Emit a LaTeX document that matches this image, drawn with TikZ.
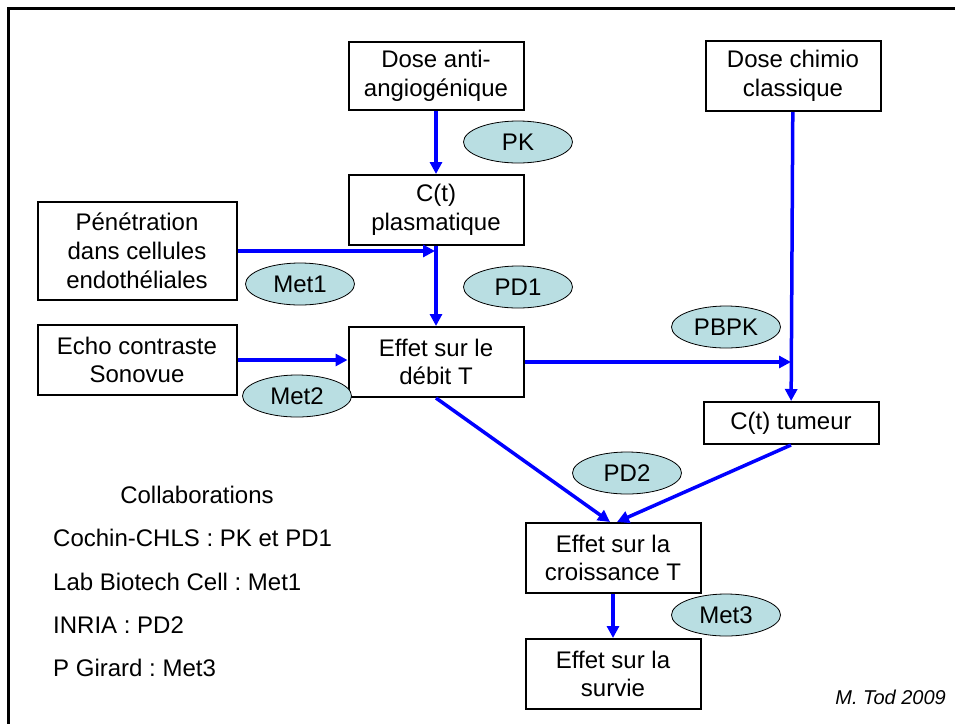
\documentclass[tikz,border=0pt]{standalone}
\usepackage{fontspec}
\setmainfont{Liberation Sans}
\usepackage{tikz}
\usetikzlibrary{arrows.meta,positioning,shapes.geometric}
\frenchspacing
\definecolor{Flow}{RGB}{0,0,255}
\definecolor{Model}{RGB}{185,222,226}
\tikzset{
  stage/.style={rectangle,draw=black,line width=2pt,minimum width=175pt,minimum height=70pt,inner sep=0pt,align=center,font=\fontsize{24}{28.8}\selectfont},
  model/.style={ellipse,draw=black,line width=0.8pt,fill=Model,minimum width=109pt,minimum height=42pt,inner sep=0pt,font=\fontsize{24}{28.8}\selectfont},
  flow/.style={-{Triangle[length=12pt,width=12pt]},draw=Flow,line width=3.5pt},
  note/.style={inner sep=0pt,font=\fontsize{24}{28.8}\selectfont},
  frame/.style={draw=black,line width=3pt}
}
\begin{document}
\begin{tikzpicture}[x=1pt,y=-1pt]
\useasboundingbox (0,0) rectangle (955,723);
\clip (0,0) rectangle (955,723);
\draw[frame] (8.5,8.5) rectangle (1000,800);
\node[stage,minimum height=68pt](dose) at (436,76){Dose anti-\\angiogénique};
\node[stage,below=63pt of dose](plasma){C(t)\\plasmatique};
\node[stage,below=80pt of plasma](debit){Effet sur le\\débit T};
\node[stage,minimum width=199pt,minimum height=98pt](pene) at (137,251){Pénétration\\dans cellules\\endothéliales};
\node[stage,minimum width=199pt](echo) at (137,360){Echo contraste\\Sonovue};
\node[stage](chimio) at (793,76){Dose chimio\\classique};
\node[stage,minimum height=42pt](tumeur) at (791,423){C(t) tumeur};
\node[stage](croiss) at (613,558){Effet sur la\\croissance T};
\node[stage,below=44pt of croiss](survie){Effet sur la\\survie};
\draw[flow](dose)--(plasma);
\draw[flow](plasma)--(debit);
\draw[flow,shorten >=1pt](pene.east)--(pene.east -| plasma.south);
\draw[flow](echo.east)--(echo.east -| debit.west);
\draw[flow](chimio)--(tumeur);
\draw[flow,shorten >=2pt](debit.east)--(debit.east -| chimio.south);
\draw[flow](debit.south)--([xshift=-3pt]croiss.north);
\draw[flow](tumeur.south)--([xshift=4pt]croiss.north);
\draw[flow](croiss)--(survie);
\node[model](pk) at (518,142){PK};
\node[model](pd1) at (518,287){PD1};
\node[model](met1) at (300,284){Met1};
\node[model](met2) at (297,396){Met2};
\node[model](pbpk) at (726,327){PBPK};
\node[model](pd2) at (627,473){PD2};
\node[model](met3) at (726,615){Met3};
\node[note](collab) at (197,495){Collaborations};
\node[note,anchor=west](cochin) at (53,538){Cochin-CHLS : PK et PD1};
\node[note,anchor=west](biotech) at (53,582){Lab Biotech Cell : Met1};
\node[note,anchor=west](inria) at (53,625){INRIA : PD2};
\node[note,anchor=west](girard) at (53,668){P Girard : Met3};
\node[note,anchor=east,font=\fontsize{20}{24}\selectfont\itshape](sign) at (946,697){M. Tod 2009};
\end{tikzpicture}
\end{document}
